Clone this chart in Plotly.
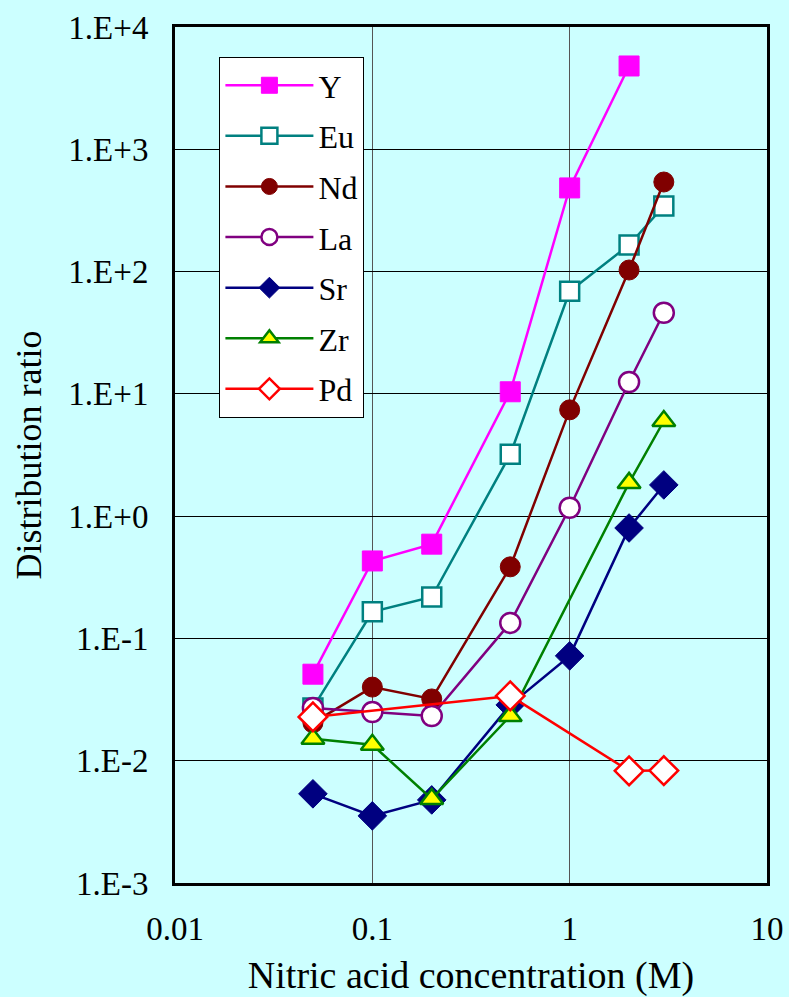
import plotly.graph_objects as go

# Nitric acid concentration (M) for each element's measurements
x_Y = [0.05, 0.1, 0.2, 0.5, 1, 2]
D_Y = [0.051, 0.43, 0.59, 10.4, 483, 4800]

x_Eu = [0.05, 0.1, 0.2, 0.5, 1, 2, 3]
D_Eu = [0.027, 0.165, 0.218, 3.2, 69, 165, 344]

x_Nd = [0.05, 0.1, 0.2, 0.5, 1, 2, 3]
D_Nd = [0.0204, 0.040, 0.032, 0.385, 7.4, 103, 540]

x_La = [0.05, 0.1, 0.2, 0.5, 1, 2, 3]
D_La = [0.027, 0.025, 0.0232, 0.134, 1.17, 12.5, 46]

x_Sr = [0.05, 0.1, 0.2, 0.5, 1, 2, 3]
D_Sr = [0.00536, 0.00354, 0.00478, 0.0286, 0.072, 0.80, 1.8]

x_Zr = [0.05, 0.1, 0.2, 0.5, 2, 3]
D_Zr = [0.0151, 0.0135, 0.00487, 0.0232, 1.87, 6.0]

x_Pd = [0.05, 0.5, 2, 3]
D_Pd = [0.0228, 0.0339, 0.00826, 0.0083]

y_tick_vals = [1e-3, 1e-2, 1e-1, 1e0, 1e1, 1e2, 1e3, 1e4]
y_tick_text = ["1.E-3", "1.E-2", "1.E-1", "1.E+0", "1.E+1", "1.E+2", "1.E+3", "1.E+4"]
x_tick_vals = [0.01, 0.1, 1, 10]
x_tick_text = ["0.01", "0.1", "1", "10"]

BG = "#ccffff"
FONT = "Liberation Serif"

# name, x, y, line colour, marker symbol, marker fill, marker size
series = [
    ("Y", x_Y, D_Y, "#ff00ff", "square", "#ff00ff", 20),
    ("Eu", x_Eu, D_Eu, "#008080", "square", "white", 19),
    ("Nd", x_Nd, D_Nd, "#800000", "circle", "#800000", 20),
    ("La", x_La, D_La, "#800080", "circle", "white", 20),
    ("Sr", x_Sr, D_Sr, "#000080", "diamond", "#000080", 22),
    ("Zr", x_Zr, D_Zr, "#008000", "triangle-up", "#ffff00", 20),
    ("Pd", x_Pd, D_Pd, "#ff0000", "diamond", "white", 22),
]

fig = go.Figure()
for name, xs, ys, color, symbol, fill, size in series:
    lw = 1 if fill == color else 2.5
    fig.add_trace(go.Scatter(
        x=xs, y=ys, name=name, mode="lines+markers",
        line=dict(color=color, width=2.5),
        marker=dict(symbol=symbol, size=size, color=fill,
                    line=dict(color=color, width=lw)),
        legendgroup=name,
    ))

fig.update_layout(
    width=789, height=997,
    paper_bgcolor=BG, plot_bgcolor=BG,
    margin=dict(l=175, r=22, t=27, b=114),
    font=dict(family=FONT, size=30, color="black"),
    showlegend=True,
    legend=dict(
        x=0.075, y=0.965, xanchor="left", yanchor="top",
        bgcolor="white", bordercolor="black", borderwidth=1,
        font=dict(family=FONT, size=32),
        itemwidth=88, tracegroupgap=6,
    ),
    xaxis=dict(
        type="log", range=[-2, 1], automargin=False,
        tickvals=x_tick_vals, ticktext=x_tick_text,
        showgrid=True, gridcolor="#555555", gridwidth=1,
        showline=True, linecolor="black", linewidth=3, mirror=True,
        ticks="", zeroline=False, ticklabelstandoff=14,
        tickfont=dict(family=FONT, size=33),
        title=dict(text="Nitric acid concentration (M)",
                   font=dict(family=FONT, size=38), standoff=27),
    ),
    yaxis=dict(
        type="log", range=[-3, 4], automargin=False,
        tickvals=y_tick_vals, ticktext=y_tick_text,
        showgrid=True, gridcolor="black", gridwidth=1,
        showline=True, linecolor="black", linewidth=3, mirror=True,
        ticks="", zeroline=False, ticklabelstandoff=17,
        tickfont=dict(family=FONT, size=33),
        title=dict(text="Distribution ratio",
                   font=dict(family=FONT, size=36), standoff=16),
    ),
)

fig.write_html("out.html")
